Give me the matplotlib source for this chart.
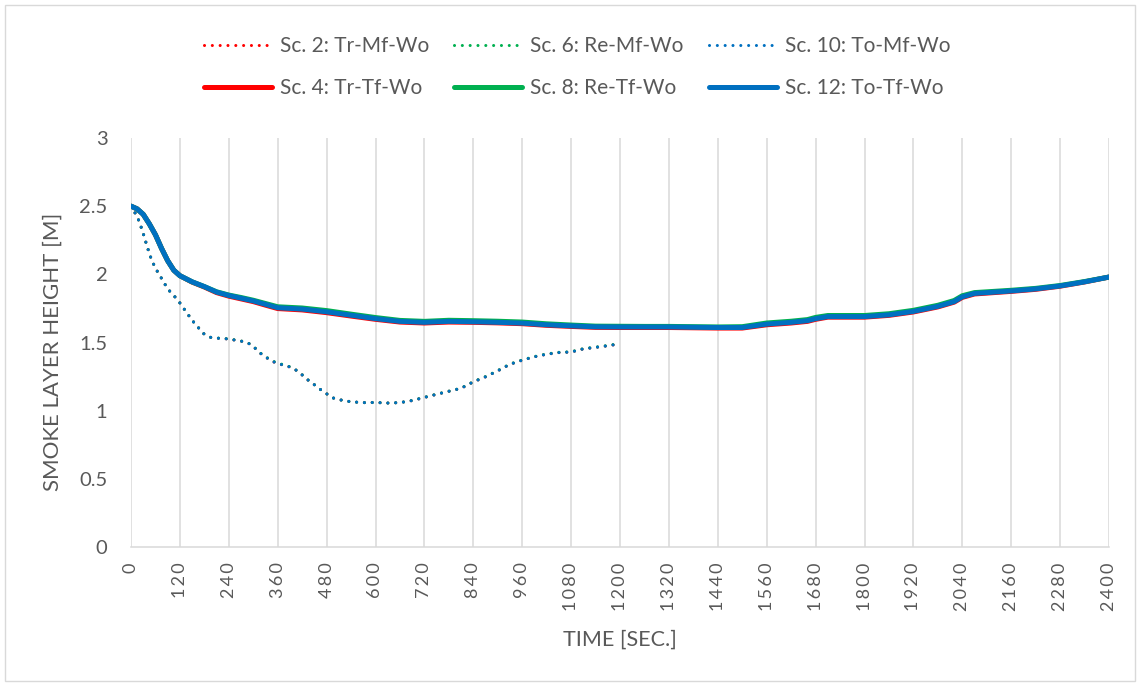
import matplotlib
matplotlib.use("Agg")
import matplotlib.pyplot as plt
from matplotlib.patches import Rectangle

# ---------------- data ----------------
t_tf = [0, 15, 30, 45, 60, 75, 90, 105, 120, 150, 180, 210, 240, 270, 300, 330, 360,
        420, 480, 540, 600, 660, 720, 780, 840, 900, 960, 1020, 1080, 1140, 1200,
        1260, 1320, 1380, 1440, 1500, 1560, 1620, 1660, 1680, 1710, 1800, 1860, 1920,
        1980, 2020, 2040, 2070, 2160, 2220, 2280, 2340, 2400]

sc4_tr_tf = [2.50, 2.48, 2.44, 2.37, 2.29, 2.19, 2.10, 2.03, 1.99, 1.943, 1.907, 1.866,
             1.84, 1.82, 1.80, 1.774, 1.749, 1.739, 1.719, 1.694, 1.67, 1.65, 1.643,
             1.65, 1.648, 1.644, 1.638, 1.626, 1.618, 1.611, 1.61, 1.61, 1.61, 1.608,
             1.606, 1.606, 1.63, 1.643, 1.655, 1.67, 1.686, 1.686, 1.699, 1.724, 1.761,
             1.796, 1.831, 1.856, 1.875, 1.89, 1.913, 1.944, 1.98]
sc8_re_tf = [2.50, 2.48, 2.44, 2.37, 2.29, 2.19, 2.10, 2.03, 1.99, 1.945, 1.91, 1.872,
             1.848, 1.83, 1.81, 1.786, 1.762, 1.753, 1.734, 1.708, 1.683, 1.662, 1.655,
             1.663, 1.66, 1.656, 1.65, 1.637, 1.628, 1.62, 1.619, 1.618, 1.618, 1.616,
             1.614, 1.616, 1.643, 1.656, 1.668, 1.684, 1.698, 1.698, 1.711, 1.736, 1.773,
             1.808, 1.843, 1.866, 1.883, 1.897, 1.918, 1.947, 1.98]
sc12_to_tf = [2.50, 2.48, 2.44, 2.37, 2.29, 2.19, 2.10, 2.03, 1.99, 1.945, 1.91, 1.87,
              1.845, 1.825, 1.805, 1.78, 1.755, 1.745, 1.725, 1.70, 1.675, 1.655, 1.648,
              1.655, 1.652, 1.648, 1.642, 1.63, 1.622, 1.615, 1.614, 1.614, 1.614, 1.612,
              1.61, 1.61, 1.635, 1.648, 1.66, 1.675, 1.69, 1.69, 1.703, 1.728, 1.765,
              1.80, 1.835, 1.86, 1.878, 1.893, 1.915, 1.945, 1.98]

t_mf = [0, 10, 20, 30, 40, 50, 60, 75, 90, 105, 120, 135, 150, 165, 180, 195, 210, 225,
        240, 255, 270, 285, 300, 315, 330, 345, 360, 375, 390, 405, 420, 435, 450, 465,
        480, 495, 510, 540, 570, 600, 630, 660, 690, 720, 750, 780, 810, 840, 870, 900,
        930, 960, 990, 1020, 1050, 1080, 1110, 1140, 1170, 1200]

sc2_tr_mf = [2.50, 2.45, 2.39, 2.30, 2.20, 2.11, 2.045, 1.97, 1.893, 1.845, 1.79, 1.726,
             1.663, 1.61, 1.56, 1.538, 1.531, 1.531, 1.524, 1.518, 1.51, 1.50, 1.472,
             1.426, 1.394, 1.365, 1.344, 1.334, 1.32, 1.297, 1.262, 1.223, 1.19, 1.155,
             1.124, 1.094, 1.081, 1.065, 1.059, 1.06, 1.056, 1.059, 1.074, 1.097, 1.12,
             1.142, 1.164, 1.211, 1.248, 1.292, 1.34, 1.37, 1.395, 1.414, 1.426, 1.43,
             1.453, 1.464, 1.476, 1.49]
sc6_re_mf = [2.50, 2.45, 2.39, 2.30, 2.20, 2.11, 2.045, 1.97, 1.893, 1.845, 1.79, 1.726,
             1.663, 1.61, 1.56, 1.538, 1.532, 1.532, 1.525, 1.519, 1.511, 1.501, 1.473,
             1.428, 1.396, 1.368, 1.348, 1.337, 1.322, 1.298, 1.263, 1.224, 1.19, 1.155,
             1.124, 1.094, 1.081, 1.065, 1.059, 1.06, 1.056, 1.059, 1.075, 1.098, 1.121,
             1.143, 1.165, 1.212, 1.25, 1.294, 1.342, 1.372, 1.397, 1.416, 1.428, 1.432,
             1.455, 1.466, 1.478, 1.492]
sc10_to_mf = [2.50, 2.45, 2.39, 2.30, 2.20, 2.11, 2.045, 1.97, 1.893, 1.845, 1.79, 1.726,
              1.663, 1.61, 1.56, 1.538, 1.531, 1.531, 1.524, 1.518, 1.51, 1.50, 1.472,
              1.426, 1.394, 1.365, 1.344, 1.334, 1.32, 1.297, 1.262, 1.223, 1.19, 1.155,
              1.124, 1.094, 1.081, 1.065, 1.059, 1.06, 1.056, 1.059, 1.074, 1.097, 1.12,
              1.142, 1.164, 1.211, 1.248, 1.292, 1.34, 1.37, 1.395, 1.414, 1.426, 1.43,
              1.453, 1.464, 1.476, 1.49]

x_ticks = list(range(0, 2401, 120))
y_ticks = [0, 0.5, 1, 1.5, 2, 2.5, 3]

labels = {
    "sc2": "Sc. 2: Tr-Mf-Wo", "sc6": "Sc. 6: Re-Mf-Wo", "sc10": "Sc. 10: To-Mf-Wo",
    "sc4": "Sc. 4: Tr-Tf-Wo", "sc8": "Sc. 8: Re-Tf-Wo", "sc12": "Sc. 12: To-Tf-Wo",
}

# ---------------- style ----------------
RED, GREEN, BLUE = "#FF0000", "#00B050", "#0070C0"
GRAY_TXT = "#595959"
GRID = "#D9D9D9"
plt.rcParams["font.family"] = ["Lato", "DejaVu Sans"]

fig = plt.figure(figsize=(11.39, 6.84), dpi=100)
ax = fig.add_axes([131 / 1139, 1 - 547 / 684, 978 / 1139, 409 / 684])

dot_kw = dict(lw=2.2, dashes=(0.01, 2.55), dash_capstyle="round", solid_capstyle="round")
sol_kw = dict(lw=3.6, solid_capstyle="round")

h2, = ax.plot(t_mf, sc2_tr_mf, color=RED, label=labels["sc2"], **dot_kw)
h6, = ax.plot(t_mf, sc6_re_mf, color=GREEN, label=labels["sc6"], **dot_kw)
h10, = ax.plot(t_mf, sc10_to_mf, color=BLUE, label=labels["sc10"], **dot_kw)
h4, = ax.plot(t_tf, sc4_tr_tf, color=RED, label=labels["sc4"], **sol_kw)
h8, = ax.plot(t_tf, sc8_re_tf, color=GREEN, label=labels["sc8"], **sol_kw)
h12, = ax.plot(t_tf, sc12_to_tf, color=BLUE, label=labels["sc12"], **sol_kw)

ax.set_xlim(0, 2400)
ax.set_ylim(0, 3)
ax.set_xticks(x_ticks)
ax.set_xticklabels(["\u2009".join(str(v)) for v in x_ticks], rotation=90,
                   fontsize=13, color=GRAY_TXT)
ax.set_yticks(y_ticks)
ax.set_yticklabels([f"{v:g}" for v in y_ticks], fontsize=14.5, color=GRAY_TXT)
ax.tick_params(axis="x", length=0, pad=11)
ax.tick_params(axis="y", length=0, pad=17)

ax.grid(axis="x", color=GRID, lw=1.1)
ax.grid(axis="y", visible=False)
ax.set_axisbelow(True)
for s in ["top", "right", "left"]:
    ax.spines[s].set_visible(False)
ax.spines["bottom"].set_color(GRID)
ax.spines["bottom"].set_linewidth(1.1)

ax.set_xlabel("TIME [SEC.]", fontsize=15.5, color=GRAY_TXT, va="center")
ax.xaxis.set_label_coords(0.5, -0.2274)
ax.set_ylabel("SMOKE LAYER HEIGHT [M]", fontsize=16, color=GRAY_TXT, va="center")
ax.yaxis.set_label_coords(-0.0798, 0.478)

fig.legend(handles=[h2, h4, h6, h8, h10, h12], ncol=3, loc="center",
           bbox_to_anchor=(577 / 1139, 1 - 67 / 684), frameon=False,
           fontsize=15, labelcolor=GRAY_TXT, handlelength=3.27, handletextpad=0.38,
           columnspacing=1.2, labelspacing=1.05)

fig.patches.append(Rectangle((4.5 / 1139, 3.5 / 684), 1130 / 1139, 676 / 684,
                             transform=fig.transFigure, fill=False,
                             edgecolor=GRID, lw=1.0))

fig.savefig("out.png", dpi=100)
